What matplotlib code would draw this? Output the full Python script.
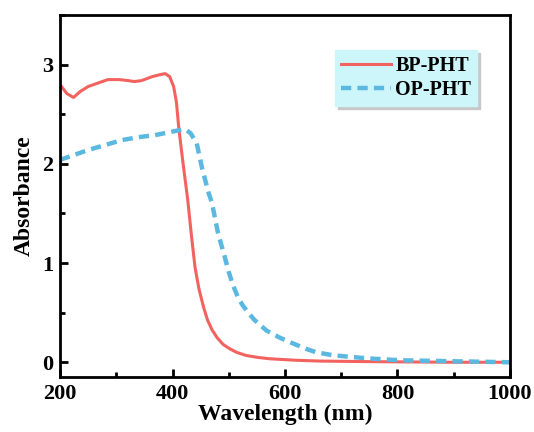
import numpy as np
import matplotlib
matplotlib.use("Agg")
import matplotlib.pyplot as plt
from matplotlib.ticker import MultipleLocator

# UV-vis absorption spectra read at selected wavelengths (nm)
bp_wavelength = [200, 212, 224, 236, 250, 265, 285, 305, 321, 332, 345, 364, 378, 387,
                 395, 402, 407, 411, 418, 427, 434, 440, 447, 455, 462, 470, 479, 490,
                 502, 514, 530, 550, 573, 620, 662, 720, 800, 900, 1000]
bp_absorbance = [2.80, 2.71, 2.67, 2.73, 2.78, 2.81, 2.85, 2.85, 2.84, 2.83, 2.84, 2.88, 2.90, 2.91,
                 2.88, 2.78, 2.62, 2.37, 2.04, 1.64, 1.26, 0.96, 0.74, 0.56, 0.43, 0.33, 0.25, 0.18,
                 0.135, 0.10, 0.07, 0.05, 0.035, 0.02, 0.012, 0.008, 0.004, 0.0, 0.0]

op_wavelength = [200, 225, 250, 280, 310, 340, 369, 395, 412, 422, 432, 443, 452, 464,
                 470, 481, 493, 500, 508, 516, 524, 532, 545, 557, 567, 590, 614, 640,
                 656, 686, 745, 804, 900, 1000]
op_absorbance = [2.04, 2.09, 2.14, 2.19, 2.24, 2.27, 2.29, 2.32, 2.34, 2.35, 2.31, 2.21, 1.97, 1.71,
                 1.61, 1.30, 1.06, 0.91, 0.77, 0.66, 0.58, 0.52, 0.43, 0.37, 0.32, 0.25, 0.19, 0.13,
                 0.10, 0.07, 0.04, 0.02, 0.01, 0.0]

plt.rcParams["font.family"] = "Liberation Serif"
plt.rcParams["font.weight"] = "bold"

fig = plt.figure(figsize=(5.34, 4.32), dpi=100)
ax = fig.add_axes([0.1124, 0.127, 0.8426, 0.838])

ax.plot(bp_wavelength, bp_absorbance, color="#F2625F", lw=2.2, label="BP-PHT")
ax.plot(op_wavelength, op_absorbance, color="#5BB8E0", lw=3.2, ls=(0, (2.3, 1.4)),
        label="OP-PHT")

ax.set_xlim(200, 1000)
ax.set_ylim(-0.15, 3.5)
ax.xaxis.set_major_locator(MultipleLocator(200))
ax.xaxis.set_minor_locator(MultipleLocator(100))
ax.yaxis.set_major_locator(MultipleLocator(1))
ax.yaxis.set_minor_locator(MultipleLocator(0.5))

ax.tick_params(which="both", direction="in", width=2, top=False, right=False,
               labelsize=16, pad=5)
ax.tick_params(which="major", length=6)
ax.tick_params(which="minor", length=3.5)
for sp in ax.spines.values():
    sp.set_linewidth(2)

ax.set_xlabel("Wavelength (nm)", fontsize=17, fontweight="bold", labelpad=0)
ax.set_ylabel("Absorbance", fontsize=17, fontweight="bold", labelpad=5)

leg = ax.legend(loc="upper left", bbox_to_anchor=(0.611, 0.903), borderaxespad=0,
                fontsize=14.5, handlelength=2.5, handletextpad=0.2, labelspacing=0.2,
                borderpad=0.3, fancybox=False, framealpha=1,
                shadow={"color": "#C8C8C8", "alpha": 1})
leg.get_frame().set_facecolor("#CCF6FA")
leg.get_frame().set_edgecolor("#CCF6FA")

fig.savefig("out.png", dpi=100)
